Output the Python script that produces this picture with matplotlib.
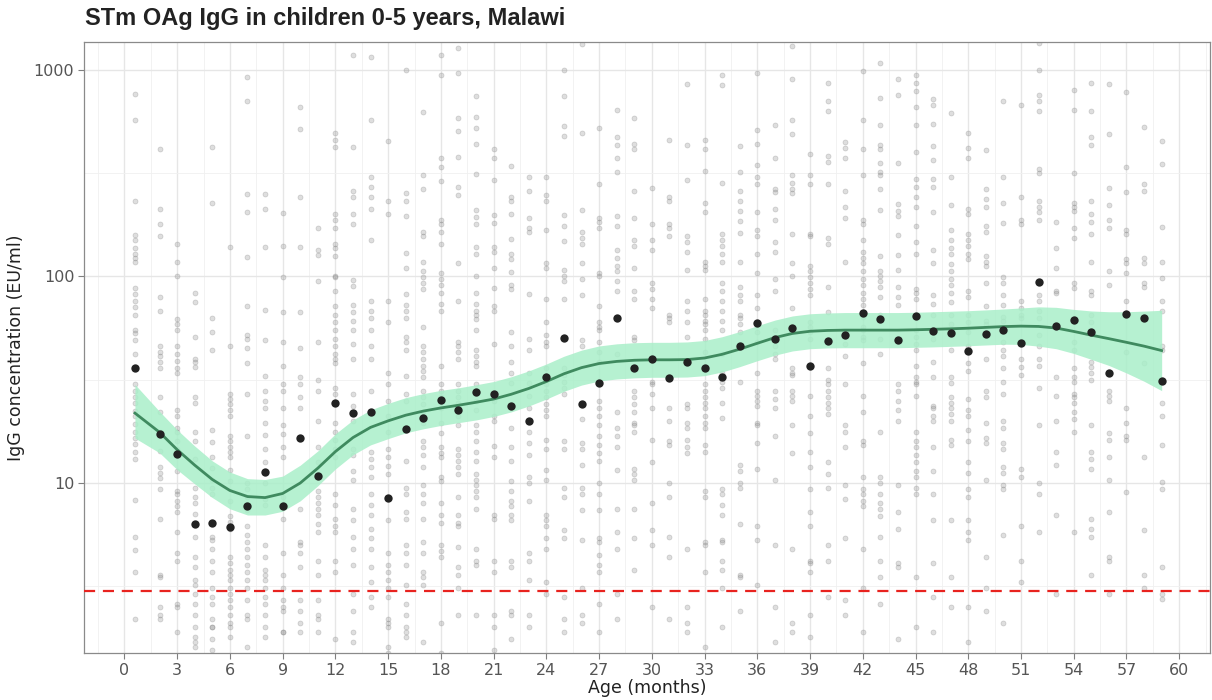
import matplotlib.pyplot as plt
import numpy as np

# --- monthly medians (black points) ---
med_age = [0.6] + list(range(2, 60))
med_val = [36, 17.3, 13.8, 6.3, 6.4, 6.1, 7.7, 11.3, 7.7, 16.5,
           10.8, 24.4, 21.8, 22.1, 8.5, 18.2, 20.6, 25.2, 22.5, 27.6,
           27.0, 23.6, 20.0, 32.6, 50.4, 24.1, 30.5, 63, 36, 39.8,
           32.2, 38.5, 36, 32.6, 46, 59.5, 49.8, 56.3, 36.9, 48.7,
           52, 66.5, 62.2, 49.2, 64.4, 54.5, 53.2, 43.5, 52.7, 55.1,
           47.6, 94, 57.5, 61.5, 53.8, 34.1, 65.8, 63, 31.2]

# --- smoothed fit and its confidence band ---
fit_age = med_age
fit_val = [21.8, 17.6, 14.5, 12.2, 10.4, 9.2, 8.6, 8.5, 8.9, 10.0,
           11.8, 14.2, 16.6, 18.6, 20.0, 21.3, 22.3, 23.1, 23.8, 24.6,
           25.5, 26.9, 28.7, 31.0, 33.8, 36.2, 37.9, 38.8, 39.3, 39.5,
           39.5, 39.6, 40.3, 42.0, 44.5, 47.5, 50.6, 53.0, 54.3, 54.8,
           55.0, 55.0, 55.0, 55.0, 55.2, 55.5, 55.8, 56.2, 56.7, 57.2,
           57.5, 57.3, 56.3, 54.2, 52.0, 50.0, 48.0, 46.0, 43.8]
fit_lo = [16.5, 14.0, 11.6, 9.9, 8.5, 7.5, 7.0, 7.0, 7.3, 8.2,
          9.7, 11.7, 13.7, 15.3, 16.4, 17.5, 18.3, 19.0, 19.6, 20.2,
          21.0, 22.1, 23.6, 25.5, 27.8, 29.8, 31.2, 31.9, 32.3, 32.5,
          32.5, 32.6, 33.1, 34.5, 36.6, 39.1, 41.6, 43.6, 44.7, 45.1,
          45.2, 45.2, 45.2, 45.2, 45.4, 45.6, 45.9, 46.2, 46.6, 47.0,
          46.9, 46.0, 44.7, 42.4, 39.7, 37.1, 34.1, 31.1, 28.0]
fit_hi = [30.0, 22.2, 18.1, 15.1, 12.8, 11.3, 10.5, 10.4, 10.8, 12.2,
          14.3, 17.3, 20.2, 22.6, 24.3, 25.9, 27.1, 28.1, 28.9, 29.9,
          31.0, 32.7, 34.9, 37.7, 41.1, 44.0, 46.1, 47.2, 47.8, 48.0,
          48.0, 48.2, 49.0, 51.1, 54.1, 57.8, 61.5, 64.4, 66.0, 66.6,
          66.9, 66.9, 66.9, 66.9, 67.1, 67.5, 67.9, 68.3, 68.9, 69.6,
          70.4, 71.3, 70.9, 69.3, 68.1, 67.5, 67.5, 68.0, 68.6]

# --- individual samples (grey points), one list per month column ---
raw_age = med_age
raw_val = [
    [764, 570, 231, 158, 150, 138, 129, 123, 118, 88, 82, 76, 71, 65, 55, 53, 49, 42, 30, 28, 26, 24.5, 22.4, 21, 19.3, 17.7, 16.5, 15.5, 14.2, 13.1, 8.3, 5.5, 4.75, 3.7, 2.2],
    [415, 212, 180, 157, 80, 68, 46, 43, 41, 38.5, 36, 26, 22, 17.7, 14.3, 11.9, 11.2, 10.6, 9.4, 6.7, 3.6, 3.5, 2.5, 2.3, 2.2],
    [143, 118, 100, 62, 59, 55, 46, 42, 39, 36, 34, 22.5, 21, 18.4, 17.7, 15.9, 14.6, 13.6, 11.4, 9.2, 8.8, 8.2, 7.7, 7.2, 5.8, 4.6, 4.2, 2.6, 2.5, 1.9],
    [83, 75, 51, 40, 38.5, 36.5, 26, 24.5, 17.7, 15.9, 13, 9.5, 8.6, 8.0, 7.1, 5.5, 4.4, 3.9, 3.4, 3.2, 2.9, 2.6, 2.3, 2.0, 1.8, 1.7, 1.6],
    [423, 227, 63, 54, 44, 18, 15.8, 13.3, 11.8, 10.4, 9.5, 8.8, 5.5, 5.3, 4.8, 4.2, 3.7, 3.1, 2.8, 2.6, 2.2, 2.0, 2.0, 1.75, 1.55],
    [139, 46, 27, 25.5, 24, 22.5, 21, 16.9, 15.9, 14.9, 14.2, 13.3, 11.5, 10.2, 8.2, 6.9, 6.5, 6.0, 4.4, 4.1, 3.8, 3.6, 3.4, 3.1, 2.9, 2.7, 2.5, 2.3, 2.1, 2.0, 1.8],
    [923, 710, 250, 205, 124, 72, 52, 50, 45, 38, 27, 16.9, 10, 9.4, 8.6, 7.4, 6.2, 5.6, 5.2, 4.8, 4.4, 4.0, 3.7, 3.4, 3.1, 2.7, 2.3, 2.2, 1.6],
    [250, 212, 139, 69, 49, 33, 28, 25, 23, 19.5, 17, 14.6, 12.6, 10, 8.4, 7.8, 5, 4.4, 3.8, 3.6, 3.4, 3.1, 2.8, 2.6, 2.3, 2.0, 1.8],
    [202, 141, 99, 67, 48, 37, 30, 28, 23, 19, 17.3, 14.9, 13.3, 8.6, 6.7, 4.6, 3.6, 3.1, 2.7, 2.5, 2.4, 1.9, 1.9],
    [665, 515, 243, 139, 67, 45, 32.5, 30, 26, 23, 7.5, 5.2, 5.0, 4.6, 3.9, 2.7, 2.4, 2.1, 1.9],
    [172, 135, 127, 95, 48, 31.6, 28, 20, 14.9, 12.6, 11, 9.2, 8.6, 8.0, 7.5, 7.0, 6.3, 5.8, 4.2, 3.6, 2.7, 2.3, 2.2, 1.9],
    [494, 458, 425, 200, 188, 172, 144, 138, 126, 101, 99, 85, 72, 65, 60, 55, 50, 46, 42, 40, 38, 29, 27, 19.6, 17.7, 16.2, 14.6, 13.3, 8.8, 7.8, 6.7, 6.2, 5.8, 4.2, 3.7, 1.75],
    [1180, 425, 259, 243, 200, 179, 96, 90, 73, 67, 61, 55, 47, 40, 27, 23.5, 20, 14.6, 13.6, 11.4, 10.4, 7.5, 6.6, 5.5, 4.8, 4.0, 2.9, 2.4, 1.9, 1.7],
    [1160, 570, 303, 271, 243, 213, 150, 76, 68, 63, 55, 46, 40, 28, 14.2, 13, 11.9, 10.7, 8.8, 7.8, 7.0, 6.0, 5.4, 4.8, 3.9, 3.3, 2.8, 2.5],
    [453, 233, 200, 76, 60, 34, 30, 25, 21, 17.7, 14.6, 13.3, 12.1, 11, 6.6, 4.6, 4.0, 3.7, 3.4, 3.1, 2.8, 2.2, 2.1, 2.0, 1.6, 1.5],
    [1000, 254, 233, 196, 130, 110, 82, 73, 68, 63, 51, 48, 44, 33, 27, 25, 12.8, 9.5, 8.8, 7.2, 6.7, 5.0, 4.6, 4.0, 3.2, 2.6, 2.3, 2.0, 1.9, 1.8],
    [628, 309, 266, 164, 157, 117, 106, 99, 93, 87, 57, 46, 43, 40, 37, 35, 32.5, 28, 26, 24, 22, 19.6, 15.9, 14.9, 13.6, 11.9, 9.8, 8.8, 8.0, 6.7, 5.2, 4.6, 3.7, 3.5, 3.2, 1.7],
    [1180, 950, 376, 338, 290, 188, 179, 164, 144, 104, 97, 91, 83, 74, 68, 37, 30, 28, 26, 23, 19.6, 17.4, 14.9, 14, 13.3, 10.7, 10.2, 8.0, 7.0, 6.4, 5.0, 4.7, 4.4, 2.1, 1.5],
    [1280, 962, 588, 507, 380, 271, 248, 116, 76, 48, 46, 43, 40, 30, 28, 26, 24.5, 23, 21, 19, 14.6, 13.6, 12.8, 11.9, 11, 8.6, 7.0, 6.4, 6.2, 4.9, 3.9, 3.6, 3.1, 2.3],
    [750, 595, 522, 440, 313, 211, 194, 179, 139, 129, 101, 83, 74, 68, 65, 62, 55, 44, 41, 38.7, 37, 30, 27, 25, 22.5, 19, 17.7, 15.9, 14.2, 12.8, 11, 10.4, 9.8, 9.2, 8.6, 7.5, 4.8, 4.2, 4.0, 2.3],
    [414, 376, 293, 198, 181, 139, 131, 110, 88, 72, 68, 47, 27, 25, 21, 20, 15.1, 13.3, 7.0, 6.7, 4.2, 3.7, 2.3, 2.0, 1.55],
    [341, 243, 232, 200, 152, 129, 122, 105, 91, 87, 54, 46, 38.5, 34, 30.5, 18.4, 14.9, 12.8, 10.2, 9.2, 8.2, 7.7, 7.0, 6.6, 4.2, 3.9, 2.4, 2.3, 1.75],
    [303, 260, 191, 172, 164, 82, 50, 44, 34, 30.5, 26.5, 23, 17.7, 15.6, 13.6, 10.7, 10, 8.2, 4.6, 4.2, 3.4, 2.3, 2.0],
    [303, 248, 233, 168, 116, 110, 78, 60, 52, 48, 46, 36, 32.5, 30, 28, 26, 24, 22.5, 21, 16.2, 14.6, 11.5, 10.4, 7.0, 6.6, 6.2, 5.4, 4.8, 3.3, 2.9],
    [1000, 750, 534, 480, 198, 176, 149, 108, 101, 95, 78, 36, 33.5, 31, 29, 27, 15.9, 14.6, 9.5, 8.6, 5.9, 5.4, 2.8, 2.2, 1.9],
    [1330, 496, 211, 164, 154, 144, 116, 97, 81, 49, 46, 20.5, 15.6, 14.6, 12.2, 9.5, 8.8, 7.4, 5.3, 3.1, 2.3, 2.1],
    [522, 279, 191, 183, 172, 104, 101, 72, 60, 57, 55, 48, 43, 38.7, 25, 23, 21, 19, 16.9, 15.3, 14, 12.8, 10, 8.8, 7.4, 5.4, 5.2, 4.5, 4.0, 3.7, 2.6, 1.9],
    [640, 472, 433, 376, 322, 196, 176, 135, 123, 113, 106, 95, 85, 42, 22, 18.4, 16.9, 14.9, 11.5, 7.5, 5.8, 4.8, 2.9, 2.2],
    [588, 440, 414, 260, 191, 150, 141, 110, 85, 78, 51, 49, 28, 26, 24, 22, 19.6, 19, 17.7, 11.7, 11, 10.4, 7.5, 5.4, 3.8],
    [268, 179, 150, 135, 93, 87, 78, 70, 31, 30, 27, 23, 16.2, 12.6, 8.0, 5.9, 5.0, 2.5],
    [458, 243, 233, 179, 172, 157, 65, 63, 60, 23, 20, 15.9, 15.3, 10, 8.6, 5.5, 4.4, 2.2],
    [856, 433, 292, 157, 147, 132, 108, 76, 68, 60, 51, 24, 23, 19.6, 18.4, 16.2, 14.9, 14, 4.8, 2.5, 2.1, 1.9],
    [458, 414, 325, 228, 205, 118, 113, 107, 78, 68, 65, 61, 59, 55, 50, 43, 30, 28, 26, 24.5, 23, 21, 19.6, 18.4, 15.3, 14.2, 9.2, 8.6, 5.2, 5.0, 3.7, 1.6],
    [945, 845, 284, 160, 150, 141, 129, 118, 93, 85, 76, 68, 61, 55, 42, 34, 31, 29, 24.5, 20.7, 9.4, 8.8, 7.8, 7.0, 5.3, 5.2, 4.2, 3.8, 3.1, 2.0],
    [430, 322, 260, 233, 208, 186, 162, 118, 89, 81, 76, 65, 63, 59, 54, 31, 12.2, 11.4, 10, 9.5, 6.3, 3.6, 3.5, 2.4],
    [962, 510, 440, 345, 303, 279, 205, 168, 157, 129, 104, 81, 70, 54, 48, 34, 28, 26.5, 25, 23.5, 19.6, 19, 15.6, 11.7, 6.2, 5.3, 3.2],
    [540, 376, 266, 256, 213, 188, 147, 132, 97, 85, 55, 46, 42, 40, 28, 25.5, 23, 16.9, 10.4, 5.0, 2.5, 1.7],
    [1310, 905, 570, 490, 309, 284, 266, 254, 160, 116, 101, 70, 36, 34, 33.5, 28, 26.5, 25, 19, 14, 4.8, 2.1, 1.9],
    [391, 309, 279, 160, 157, 113, 106, 99, 93, 87, 81, 60, 57, 54, 50, 26.3, 21, 17.4, 14.2, 11.9, 9.4, 7.2, 6.2, 4.2, 4.1, 3.7, 2.3, 1.8],
    [862, 710, 635, 384, 360, 279, 154, 144, 89, 67, 36, 31.6, 30, 28, 26, 24.5, 23, 21.6, 12.6, 11, 9.5, 5.0, 4.2, 2.8],
    [448, 419, 376, 260, 218, 191, 118, 52, 47, 41, 30, 19, 17.7, 14.9, 9.8, 8.4, 5.4, 2.7, 2.3],
    [985, 570, 414, 309, 188, 179, 150, 132, 123, 116, 106, 97, 91, 83, 78, 73, 64, 57, 55, 51, 49, 38, 26.5, 22, 15.9, 15.3, 10.7, 9.4, 8.8, 8.2, 7.7, 4.8, 3.1, 1.9],
    [1085, 730, 540, 433, 414, 356, 322, 309, 266, 211, 126, 106, 101, 95, 89, 80, 65, 50, 42, 17.7, 10.7, 10, 8.8, 8.0, 7.5, 6.9, 5.5, 4.2, 3.5, 2.6],
    [905, 760, 356, 225, 208, 196, 158, 127, 108, 89, 80, 73, 30, 28, 25, 22.5, 20, 9.8, 7.2, 6.0, 4.1, 3.9, 1.75],
    [945, 862, 790, 665, 540, 402, 296, 271, 243, 218, 176, 147, 129, 87, 83, 78, 55, 51, 47, 44, 37, 32.5, 31, 30, 26.5, 17.7, 15.9, 14.9, 13.6, 12.6, 11.4, 10.7, 9.5, 8.8, 3.5, 2.0],
    [720, 680, 550, 430, 368, 296, 271, 205, 135, 116, 81, 74, 65, 50, 38.7, 32.5, 23.5, 23, 21, 20, 14.9, 11.4, 8.8, 6.6, 4.1, 2.8, 1.9],
    [622, 303, 223, 168, 150, 138, 129, 115, 106, 97, 91, 83, 75, 65, 59, 44, 32.5, 30.5, 26, 24.5, 23, 21.6, 20, 16.2, 15.3, 6.6, 3.5, 2.5],
    [494, 419, 376, 213, 200, 160, 150, 141, 129, 121, 85, 80, 65, 60, 54, 46, 38, 35, 25.5, 22.5, 21, 18, 15.9, 12.6, 11.2, 9.4, 8.6, 6.6, 5.8, 5.3, 2.5, 1.7],
    [409, 266, 238, 218, 176, 164, 126, 118, 113, 93, 72, 61, 59, 40, 28, 26, 19.6, 16.6, 15.6, 10.4, 4.4, 3.1, 2.4],
    [705, 303, 228, 181, 99, 93, 81, 73, 64, 61, 48, 44, 41, 36, 31, 27, 20, 18.4, 15.6, 14.6, 11.9, 11.2, 9.8, 9.4, 5.6, 2.1],
    [680, 243, 188, 179, 76, 70, 65, 63, 40, 36.5, 33.5, 11.7, 10.7, 6.2, 4.2, 3.3],
    [1350, 1000, 760, 710, 635, 330, 316, 233, 218, 205, 188, 81, 76, 68, 63, 52, 46, 40, 37, 29, 19, 10, 8.8, 5.8],
    [184, 138, 110, 85, 83, 57, 32.5, 26.3, 20, 14.2, 12.2, 7.0, 2.9],
    [800, 640, 316, 228, 218, 208, 172, 154, 93, 88, 48, 44, 36, 32.5, 31, 27, 26, 24.5, 22, 20.5, 17.7, 5.8],
    [862, 635, 472, 433, 233, 200, 183, 160, 118, 85, 81, 65, 60, 38.7, 36.5, 34, 31.6, 19, 14.2, 13, 11.7, 6.7, 6.0, 5.5, 3.6],
    [856, 490, 268, 223, 188, 172, 106, 91, 28, 26.5, 25, 17.4, 16.2, 13.3, 10.4, 7.2, 4.4, 4.2, 2.9],
    [780, 338, 256, 168, 160, 121, 116, 104, 76, 43, 23, 19.6, 16.9, 16.2, 9.0],
    [530, 279, 260, 123, 116, 93, 89, 38, 13.3, 5.9, 3.6, 3.1],
    [453, 352, 174, 118, 98, 76, 68, 46, 44, 24.5, 21, 15.3, 10.1, 9.4, 3.9, 2.9, 2.75],
]

threshold = 3.0
x_ticks = list(range(0, 61, 3))
y_ticks = [10, 100, 1000]

# --- figure ---
fig = plt.figure(figsize=(12.12, 7.0), dpi=100)
ax = fig.add_axes([84 / 1212, 1 - 653 / 700, 1126 / 1212, 611 / 700])
plt.rcParams['font.family'] = ['Liberation Sans', 'DejaVu Sans']

ax.set_yscale("log")
ax.set_xlim(-2.3, 61.75)
ax.set_ylim(1.503, 1366)

# gridlines: majors every 3 months / decade, minors in between
ax.set_xticks(x_ticks)
ax.set_xticks([t + 1.5 for t in x_ticks[:-1]] + [-1.5, 61.5], minor=True)
ax.set_yticks(y_ticks)
ax.set_yticklabels([str(t) for t in y_ticks])
ax.set_yticks([10 ** 0.5, 10 ** 1.5, 10 ** 2.5], minor=True)
ax.yaxis.set_minor_formatter(plt.NullFormatter())
ax.grid(True, which="major", color="#e6e6e6", linewidth=1.0)
ax.grid(True, which="minor", color="#f0f0f0", linewidth=0.6)
ax.set_axisbelow(True)
ax.tick_params(which="minor", length=0)
ax.tick_params(which="major", length=4, width=0.8, color="#7f7f7f",
               labelsize=11.5, labelcolor="#555555", pad=3)
for s in ax.spines.values():
    s.set_color("#8a8a8a")
    s.set_linewidth(0.9)

# grey individual points
for age, vals in zip(raw_age, raw_val):
    ax.scatter([age] * len(vals), vals, s=13,
               facecolors=(0.5, 0.5, 0.5, 0.26),
               edgecolors=(0.45, 0.45, 0.45, 0.30), linewidths=0.5, zorder=2)

# threshold
ax.axhline(threshold, color="#e8231f", linestyle=(0, (5, 3.5)), linewidth=1.6, zorder=3)

# smooth fit
ax.fill_between(fit_age, fit_lo, fit_hi, color="#a9efc9", alpha=0.85, linewidth=0, zorder=4)
ax.plot(fit_age, fit_val, color="#3f8a5f", linewidth=2.0, zorder=5)

# medians
ax.scatter(med_age, med_val, s=36, color="#222222", zorder=6, linewidths=0)

ax.set_xlabel("Age (months)", fontsize=12.5, color="#222222", labelpad=1)
ax.set_ylabel("IgG concentration (EU/ml)", fontsize=12.5, color="#222222", labelpad=6)
fig.text(85 / 1212, 1 - 18 / 700, "STm OAg IgG in children 0-5 years, Malawi",
         fontsize=17, fontweight="bold", color="#222222", ha="left", va="center")

fig.savefig("out.png", dpi=100)
